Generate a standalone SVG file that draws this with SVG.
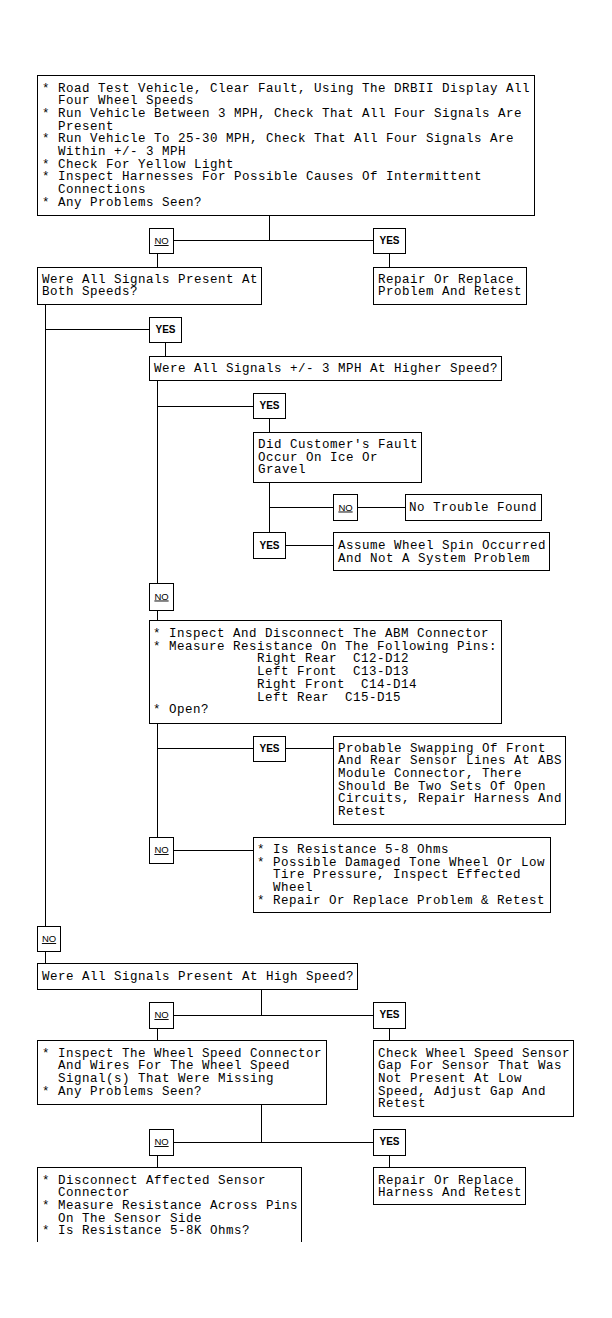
<svg xmlns="http://www.w3.org/2000/svg" width="612" height="1318" viewBox="0 0 612 1318">
<style>
.b{fill:#fff;stroke:#000;stroke-width:1;shape-rendering:crispEdges}
.c path{fill:none;stroke:#000;stroke-width:1;shape-rendering:crispEdges}
.t{font-family:"Liberation Mono","DejaVu Sans Mono",monospace;font-size:12.5px;letter-spacing:0.5px;fill:#000}
.y{font-family:"Liberation Sans",Arial,sans-serif;font-size:10px;font-weight:bold;text-anchor:middle;fill:#000}
.n{font-family:"Liberation Sans",Arial,sans-serif;font-size:9.5px;text-anchor:middle;text-decoration:underline;fill:#000}
</style>
<rect x="0" y="0" width="612" height="1318" fill="#fff"/>
<g id="connectors" class="c">
<path d="M269.5,215.5V240.5M173.5,240.5H373.5M157.5,253.5V267.5M389.5,253.5V267.5"/>
<path d="M45.5,304.5V926.5M45.5,329.5H149.5M165.5,342.5V356.5"/>
<path d="M157.5,380.5V583.5M157.5,406.5H253.5M269.5,418.5V432.5"/>
<path d="M269.5,482.5V532.5M269.5,507.5H333.5M357.5,507.5H405.5M285.5,545.5H333.5"/>
<path d="M157.5,610.5V620.5M157.5,723.5V837.5M157.5,748.5H253.5M285.5,748.5H333.5M173.5,850.5H253.5"/>
<path d="M45.5,951.5V963.5M261.5,989.5V1015.5M173.5,1015.5H373.5M157.5,1028.5V1040.5M389.5,1028.5V1040.5"/>
<path d="M261.5,1104.5V1142.5M173.5,1142.5H373.5M157.5,1155.5V1167.5M389.5,1155.5V1167.5"/>
</g>
<g id="n1">
<rect class="b" x="37.5" y="75.5" width="497" height="140"/>
<text class="t" x="42" y="91.5">* Road Test Vehicle, Clear Fault, Using The DRBII Display All</text>
<text class="t" x="58" y="104.2">Four Wheel Speeds</text>
<text class="t" x="42" y="116.8">* Run Vehicle Between 3 MPH, Check That All Four Signals Are</text>
<text class="t" x="58" y="129.5">Present</text>
<text class="t" x="42" y="142.2">* Run Vehicle To 25-30 MPH, Check That All Four Signals Are</text>
<text class="t" x="58" y="154.8">Within +/- 3 MPH</text>
<text class="t" x="42" y="167.5">* Check For Yellow Light</text>
<text class="t" x="42" y="180.2">* Inspect Harnesses For Possible Causes Of Intermittent</text>
<text class="t" x="58" y="192.9">Connections</text>
<text class="t" x="42" y="205.5">* Any Problems Seen?</text>
</g>
<g id="l1"><rect class="b" x="149.5" y="228.5" width="24" height="25"/><text class="n" x="161.5" y="244">NO</text></g>
<g id="l2"><rect class="b" x="373.5" y="228.5" width="32" height="25"/><text class="y" x="389.5" y="244">YES</text></g>
<g id="n2">
<rect class="b" x="37.5" y="267.5" width="224" height="37"/>
<text class="t" x="42" y="282.5">Were All Signals Present At</text>
<text class="t" x="42" y="295.2">Both Speeds?</text>
</g>
<g id="n3">
<rect class="b" x="373.5" y="267.5" width="153" height="37"/>
<text class="t" x="378" y="282.5">Repair Or Replace</text>
<text class="t" x="378" y="295.2">Problem And Retest</text>
</g>
<g id="l3"><rect class="b" x="149.5" y="317.5" width="32" height="25"/><text class="y" x="165.5" y="333">YES</text></g>
<g id="n4">
<rect class="b" x="149.5" y="356.5" width="352" height="24"/>
<text class="t" x="154" y="371.5">Were All Signals +/- 3 MPH At Higher Speed?</text>
</g>
<g id="l4"><rect class="b" x="253.5" y="393.5" width="32" height="25"/><text class="y" x="269.5" y="409">YES</text></g>
<g id="n5">
<rect class="b" x="253.5" y="432.5" width="168" height="50"/>
<text class="t" x="258" y="448">Did Customer's Fault</text>
<text class="t" x="258" y="460.7">Occur On Ice Or</text>
<text class="t" x="258" y="473.4">Gravel</text>
</g>
<g id="l5"><rect class="b" x="333.5" y="494.5" width="24" height="26"/><text class="n" x="345.5" y="510.5">NO</text></g>
<g id="n6">
<rect class="b" x="405.5" y="494.5" width="136" height="26"/>
<text class="t" x="409" y="511">No Trouble Found</text>
</g>
<g id="l6"><rect class="b" x="253.5" y="532.5" width="32" height="26"/><text class="y" x="269.5" y="548.5">YES</text></g>
<g id="n7">
<rect class="b" x="333.5" y="532.5" width="216" height="38"/>
<text class="t" x="338" y="549">Assume Wheel Spin Occurred</text>
<text class="t" x="338" y="561.7">And Not A System Problem</text>
</g>
<g id="l7"><rect class="b" x="149.5" y="583.5" width="24" height="27"/><text class="n" x="161.5" y="599.5">NO</text></g>
<g id="n8">
<rect class="b" x="149.5" y="620.5" width="352" height="103"/>
<text class="t" x="153" y="637">* Inspect And Disconnect The ABM Connector</text>
<text class="t" x="153" y="649.7">* Measure Resistance On The Following Pins:</text>
<text class="t" x="257" y="662.4">Right Rear</text><text class="t" x="353" y="662.4">C12-D12</text>
<text class="t" x="257" y="675.1">Left Front</text><text class="t" x="353" y="675.1">C13-D13</text>
<text class="t" x="257" y="687.8">Right Front</text><text class="t" x="361" y="687.8">C14-D14</text>
<text class="t" x="257" y="700.5">Left Rear</text><text class="t" x="345" y="700.5">C15-D15</text>
<text class="t" x="153" y="713.2">* Open?</text>
</g>
<g id="l8"><rect class="b" x="253.5" y="736.5" width="32" height="25"/><text class="y" x="269.5" y="752">YES</text></g>
<g id="n9">
<rect class="b" x="333.5" y="736.5" width="232" height="88"/>
<text class="t" x="338" y="751.5">Probable Swapping Of Front</text>
<text class="t" x="338" y="764.2">And Rear Sensor Lines At ABS</text>
<text class="t" x="338" y="776.9">Module Connector, There</text>
<text class="t" x="338" y="789.6">Should Be Two Sets Of Open</text>
<text class="t" x="338" y="802.3">Circuits, Repair Harness And</text>
<text class="t" x="338" y="815">Retest</text>
</g>
<g id="l9"><rect class="b" x="149.5" y="837.5" width="24" height="26"/><text class="n" x="161.5" y="853">NO</text></g>
<g id="n10">
<rect class="b" x="253.5" y="837.5" width="297" height="75"/>
<text class="t" x="257" y="853">* Is Resistance 5-8 Ohms</text>
<text class="t" x="257" y="865.7">* Possible Damaged Tone Wheel Or Low</text>
<text class="t" x="273" y="878.4">Tire Pressure, Inspect Effected</text>
<text class="t" x="273" y="891.1">Wheel</text>
<text class="t" x="257" y="903.8">* Repair Or Replace Problem &amp; Retest</text>
</g>
<g id="l10"><rect class="b" x="37.5" y="926.5" width="23" height="25"/><text class="n" x="49" y="942">NO</text></g>
<g id="n11">
<rect class="b" x="37.5" y="963.5" width="320" height="26"/>
<text class="t" x="42" y="980">Were All Signals Present At High Speed?</text>
</g>
<g id="l11"><rect class="b" x="149.5" y="1002.5" width="24" height="26"/><text class="n" x="161.5" y="1018">NO</text></g>
<g id="l12"><rect class="b" x="373.5" y="1002.5" width="32" height="26"/><text class="y" x="389.5" y="1018">YES</text></g>
<g id="n12">
<rect class="b" x="37.5" y="1040.5" width="289" height="64"/>
<text class="t" x="42" y="1056.5">* Inspect The Wheel Speed Connector</text>
<text class="t" x="58" y="1069.2">And Wires For The Wheel Speed</text>
<text class="t" x="58" y="1081.9">Signal(s) That Were Missing</text>
<text class="t" x="42" y="1094.6">* Any Problems Seen?</text>
</g>
<g id="n13">
<rect class="b" x="373.5" y="1040.5" width="200" height="76"/>
<text class="t" x="378" y="1056.5">Check Wheel Speed Sensor</text>
<text class="t" x="378" y="1069.2">Gap For Sensor That Was</text>
<text class="t" x="378" y="1081.9">Not Present At Low</text>
<text class="t" x="378" y="1094.6">Speed, Adjust Gap And</text>
<text class="t" x="378" y="1107.3">Retest</text>
</g>
<g id="l13"><rect class="b" x="149.5" y="1129.5" width="24" height="26"/><text class="n" x="161.5" y="1145">NO</text></g>
<g id="l14"><rect class="b" x="373.5" y="1129.5" width="32" height="26"/><text class="y" x="389.5" y="1145">YES</text></g>
<g id="n14">
<path class="b" d="M37.5,1242V1167.5H301.5V1242"/>
<text class="t" x="42" y="1183.5">* Disconnect Affected Sensor</text>
<text class="t" x="58" y="1196.2">Connector</text>
<text class="t" x="42" y="1208.9">* Measure Resistance Across Pins</text>
<text class="t" x="58" y="1221.6">On The Sensor Side</text>
<text class="t" x="42" y="1234.3">* Is Resistance 5-8K Ohms?</text>
</g>
<g id="n15">
<rect class="b" x="373.5" y="1167.5" width="152" height="37"/>
<text class="t" x="378" y="1183.5">Repair Or Replace</text>
<text class="t" x="378" y="1196.2">Harness And Retest</text>
</g>
</svg>
